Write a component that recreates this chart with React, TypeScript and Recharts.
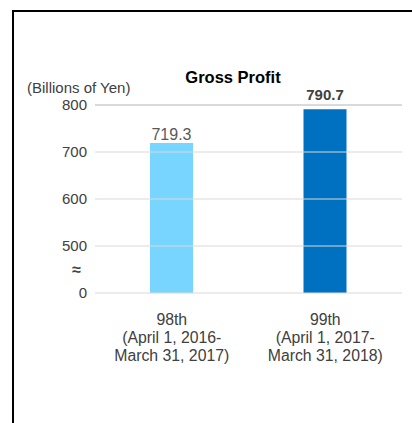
import React from 'react';
import { BarChart, Bar, XAxis, YAxis, Cell, LabelList, ReferenceLine } from 'recharts';

// periods on the x axis (each label is split into lines)
const periods = ['98th', '99th'];
const periodRanges = [
  ['(April 1, 2016-', 'March 31, 2017)'],
  ['(April 1, 2017-', 'March 31, 2018)'],
];
const grossProfit = [719.3, 790.7];
const barColors = ['#78d5ff', '#0070c0'];

// the axis is broken: the bottom tick stands for 0, the one above it for "≈"
const yTicks = [400, 450, 500, 600, 700, 800];
const yTickLabels = ['0', '≈', '500', '600', '700', '800'];
const gridValues = [400, 500, 600, 700, 800];

const FONT = '"Liberation Sans", Arial, sans-serif';

const data = periods.map((p, i) => ({ period: p, value: grossProfit[i], idx: i }));

const PeriodTick = (props: any) => {
  const { x, y, payload, index } = props;
  const lines = [payload.value, ...periodRanges[index]];
  return (
    <text x={x} y={y} textAnchor="middle" fill="#404040" fontSize={15.8} fontFamily={FONT}>
      {lines.map((l, i) => (
        <tspan key={i} x={x} y={y + 24 + i * 18}>{l}</tspan>
      ))}
    </text>
  );
};

const ValueTick = (props: any) => {
  const { x, y, payload } = props;
  const i = yTicks.indexOf(payload.value);
  const isBreak = payload.value === 450;
  return (
    <text
      x={isBreak ? x - 6 : x}
      y={y + 5}
      textAnchor="end"
      fill="#404040"
      fontSize={isBreak ? 16 : 15}
      fontWeight={isBreak ? 'bold' : 'normal'}
      fontFamily={FONT}
    >
      {yTickLabels[i]}
    </text>
  );
};

const ValueLabel = (props: any) => {
  const { x, y, width, value, index } = props;
  const bold = index === 1;
  return (
    <text
      x={x + width / 2}
      y={bold ? y - 9 : y - 3}
      textAnchor="middle"
      fill={bold ? '#404040' : '#595959'}
      fontSize={bold ? 15 : 16}
      fontWeight={bold ? 'bold' : 'normal'}
      fontFamily={FONT}
    >
      {value.toFixed(1)}
    </text>
  );
};

export default function App() {
  return (
    <div style={{ position: 'absolute', left: 0, top: 0, width: 412, height: 423, background: '#fff', overflow: 'hidden' }}>
      <div
        style={{
          position: 'absolute', left: 12, top: 10, width: 420, height: 430,
          borderLeft: '2px solid #000', borderTop: '2px solid #000',
        }}
      />
      <div style={{ position: 'absolute', left: 0, top: 0 }}>
        <BarChart width={412} height={423} data={data} margin={{ top: 105, right: 10, bottom: 60, left: 0 }}>
          <text x={233} y={83} textAnchor="middle" fontSize={16.5} fontWeight="bold" fill="#000" fontFamily={FONT}>
            Gross Profit
          </text>
          <text x={27} y={93} textAnchor="start" fontSize={15} fill="#404040" fontFamily={FONT}>
            (Billions of Yen)
          </text>
          {gridValues.map((v) => (
            <ReferenceLine key={v} y={v} stroke={v === 800 ? '#b5b5b5' : '#d9d9d9'} strokeWidth={1} />
          ))}
          <XAxis
            dataKey="period"
            axisLine={false}
            tickLine={false}
            height={70}
            interval={0}
            tick={<PeriodTick />}
          />
          <YAxis
            type="number"
            domain={[400, 800]}
            ticks={yTicks}
            width={95}
            axisLine={false}
            tickLine={false}
            interval={0}
            tick={<ValueTick />}
          />
          <Bar dataKey="value" barSize={43} isAnimationActive={false}>
            {data.map((d, i) => (
              <Cell key={d.period} fill={barColors[i]} />
            ))}
            <LabelList dataKey="value" content={<ValueLabel />} />
          </Bar>
        </BarChart>
      </div>
    </div>
  );
}
